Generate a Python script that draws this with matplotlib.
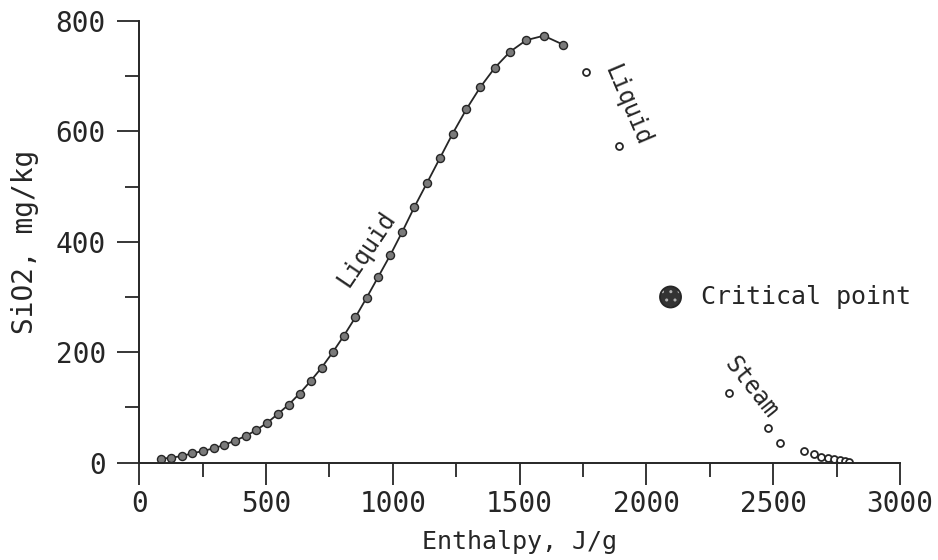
#!/usr/bin/env python3
"""
SiO2 solubility vs enthalpy along the liquid / steam saturation curves
"""

import matplotlib
matplotlib.use('Agg')
import matplotlib.pyplot as plt

# filled points on the liquid curve (J/g, mg/kg)
liquid_h = [84, 126, 168, 209, 251, 293, 335, 377, 419, 461, 504, 546, 589,
            632, 676, 719, 763, 807, 852, 897, 943, 990, 1037, 1085, 1134,
            1185, 1236, 1290, 1345, 1402, 1462, 1526, 1595, 1671]
liquid_si = [7, 9, 12, 17, 21, 26, 32, 40, 48, 59, 72, 88, 105,
             125, 148, 172, 200, 230, 263, 299, 337, 376, 418, 463, 506,
             551, 596, 640, 680, 715, 744, 765, 773, 757]

# open points near the critical region, liquid side
liquid2_h = [1761, 1890]
liquid2_si = [708, 573]

# open points on the steam side
steam_h = [2327, 2481, 2527, 2622, 2660, 2690, 2715, 2740, 2762, 2782, 2797]
steam_si = [126, 62, 35, 22, 15, 11, 8, 6, 4, 3, 2]

crit_h = [2095]
crit_si = [300]

ink = '#262626'
plt.rcParams['font.family'] = ['DejaVu Sans Mono']

fig = plt.figure(figsize=(9.38, 5.6), dpi=100)
ax = fig.add_axes([0.1485, 0.1738, 0.811, 0.789])

ax.plot(liquid_h, liquid_si, '-o', color=ink, linewidth=1.3,
        markersize=5.8, markerfacecolor='#7a7a7a', markeredgecolor=ink,
        markeredgewidth=1.0)
ax.plot(liquid2_h, liquid2_si, 'o', markersize=5, markerfacecolor='white',
        markeredgecolor=ink, markeredgewidth=1.3)
ax.plot(steam_h, steam_si, 'o', markersize=5, markerfacecolor='white',
        markeredgecolor=ink, markeredgewidth=1.3)

# critical point: dark disc with light dots
ax.scatter(crit_h, crit_si, s=230, facecolor='#333333', edgecolor='#b0b0b0',
           hatch='..', linewidths=0, zorder=4)
ax.scatter(crit_h, crit_si, s=230, facecolor='none', edgecolor=ink,
           linewidths=1.3, zorder=5)

ax.text(2215, 300, 'Critical point', ha='left', va='center',
        fontsize=18, color=ink)
ax.text(894, 387, 'Liquid', rotation=56, ha='center', va='center',
        rotation_mode='anchor', fontsize=17, color=ink)
ax.text(1923, 647, 'Liquid', rotation=-67, ha='center', va='center',
        rotation_mode='anchor', fontsize=17, color=ink)
ax.text(2412, 136, 'Steam', rotation=-51.5, ha='center', va='center',
        rotation_mode='anchor', fontsize=17, color=ink)

ax.set_xlim(0, 3000)
ax.set_ylim(0, 800)
ax.set_xticks(range(0, 3001, 500))
ax.set_xticks(range(250, 3000, 500), minor=True)
ax.set_yticks(range(0, 801, 200))
ax.set_yticks(range(100, 800, 200), minor=True)

for side in ['top', 'right']:
    ax.spines[side].set_visible(False)
for side in ['left', 'bottom']:
    ax.spines[side].set_linewidth(1.4)
    ax.spines[side].set_color(ink)

ax.tick_params(axis='both', which='major', direction='out', length=16,
               width=1.3, color=ink, labelsize=20, labelcolor=ink)
ax.tick_params(axis='both', which='minor', direction='out', length=10,
               width=1.3, color=ink)
ax.tick_params(axis='x', which='major', pad=4)
ax.tick_params(axis='y', which='major', pad=8)

ax.set_xlabel('Enthalpy, J/g', fontsize=18, color=ink, labelpad=8)
ax.set_ylabel('SiO2, mg/kg', fontsize=20, color=ink, labelpad=12)

fig.savefig('out.png', dpi=100)
